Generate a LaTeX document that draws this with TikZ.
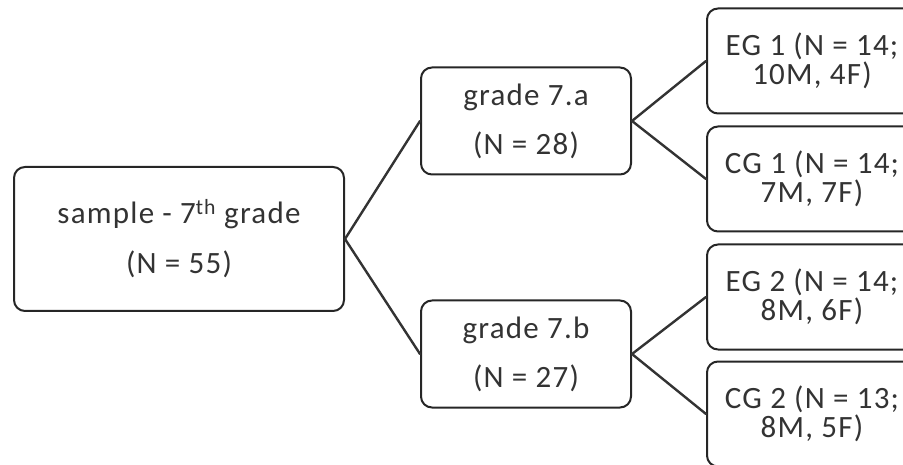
\documentclass[tikz,border=0pt]{standalone}
\usepackage{fontspec}
\setmainfont{Carlito}[LetterSpace=4]
\usepackage{tikz}
\tikzset{>=latex}

\begin{document}
\begin{tikzpicture}[line cap=round,line join=round,x=1pt,y=-1pt,
	grp/.style={draw=black!85,line width=2pt,rounded corners=11pt,inner sep=0pt,text=black!80,align=center},
	bigbox/.style={grp,minimum width=330pt,minimum height=144pt,font=\fontsize{31}{50}\selectfont},
	midbox/.style={grp,minimum width=210pt,minimum height=107pt,font=\fontsize{31}{49}\selectfont},
	subbox/.style={grp,minimum width=210pt,minimum height=105pt,font=\fontsize{31}{29}\selectfont},
	link/.style={draw=black!80,line width=2.4pt}]
	\useasboundingbox (0,0) rectangle (903,465);
	\clip (0,0) rectangle (903,465);
	% sample and the two classes
	\node [bigbox] (sample) at (179,239) {sample - 7\textsuperscript{th} grade\\(N = 55)};
	\node [midbox] (gradeA) at (526,121) {grade 7.a\\(N = 28)};
	\node [midbox] (gradeB) at (526,354) {grade 7.b\\(N = 27)};
	% groups
	\node [subbox] (eg1) at (812,61) {EG 1 (N = 14;\\10M, 4F)};
	\node [subbox] (cg1) at (812,179) {CG 1 (N = 14;\\7M, 7F)};
	\node [subbox] (eg2) at (812,297) {EG 2 (N = 14;\\8M, 6F)};
	\node [subbox] (cg2) at (812,414) {CG 2 (N = 13;\\8M, 5F)};
	\draw [link] (sample.east) -- (gradeA.west);
	\draw [link] (sample.east) -- (gradeB.west);
	\draw [link] (gradeA.east) -- (eg1.west);
	\draw [link] (gradeA.east) -- (cg1.west);
	\draw [link] (gradeB.east) -- (eg2.west);
	\draw [link] (gradeB.east) -- (cg2.west);
\end{tikzpicture}
\end{document}
